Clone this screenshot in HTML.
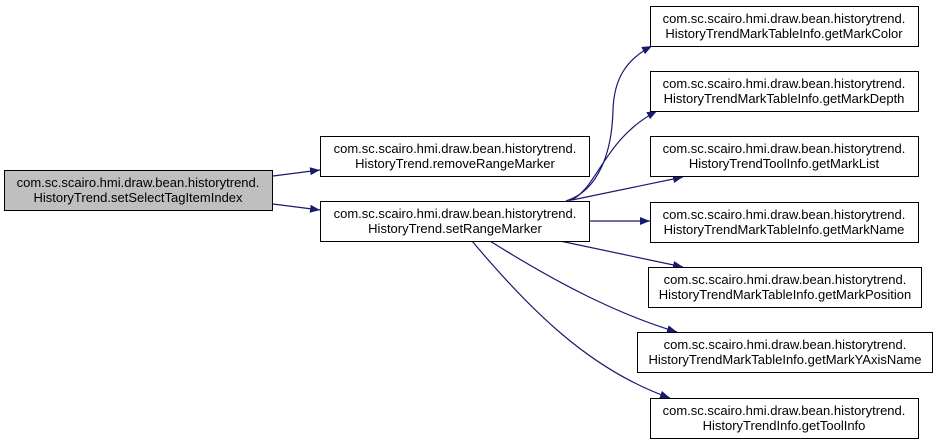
<!DOCTYPE html>
<html><head><style>
html,body{margin:0;padding:0;background:#fff;}
svg{display:block;}
text{font-family:"Liberation Sans",Arial,sans-serif;font-size:13px;fill:#000;}
</style></head><body>
<svg width="937" height="444" viewBox="0 0 937 444" xmlns="http://www.w3.org/2000/svg">
<defs>
<marker id="a" markerWidth="10" markerHeight="8" refX="10" refY="4" orient="auto" markerUnits="userSpaceOnUse">
<path d="M0,0 L10,4 L0,8 Z" fill="#191970"/>
</marker>
</defs>
<g fill="none" stroke="#191970" stroke-width="1.2" marker-end="url(#a)">
<path d="M273,176 L320,170"/>
<path d="M273,204 L320,210"/>
<path d="M566,201 C600,190 612,150 613,110 C614,80 625,60 652,46"/>
<path d="M569,201 C598,190 602,140 657,111"/>
<path d="M572,200 L683,177"/>
<path d="M590,221 L650,221"/>
<path d="M560,241 L683,267"/>
<path d="M490,241 C560,285 620,315 677,332"/>
<path d="M472,241 C530,310 590,370 670,398"/>
</g>
<g stroke="#000" stroke-width="1">
<rect x="4.5" y="170.5" width="268" height="40" fill="#bfbfbf"/>
<rect x="320.5" y="136.5" width="269" height="40" fill="#fff"/>
<rect x="320.5" y="201.5" width="269" height="40" fill="#fff"/>
<rect x="650.5" y="6.5" width="268" height="40" fill="#fff"/>
<rect x="650.5" y="71.5" width="268" height="40" fill="#fff"/>
<rect x="650.5" y="136.5" width="268" height="40" fill="#fff"/>
<rect x="650.5" y="202.5" width="268" height="40" fill="#fff"/>
<rect x="648.5" y="267.5" width="273" height="40" fill="#fff"/>
<rect x="637.5" y="332.5" width="295" height="40" fill="#fff"/>
<rect x="650.5" y="398.5" width="268" height="40" fill="#fff"/>
</g>
<g text-anchor="middle">
<text x="138" y="187">com.sc.scairo.hmi.draw.bean.historytrend.</text>
<text x="138" y="202">HistoryTrend.setSelectTagItemIndex</text>
<text x="455" y="153">com.sc.scairo.hmi.draw.bean.historytrend.</text>
<text x="455" y="168">HistoryTrend.removeRangeMarker</text>
<text x="455" y="218">com.sc.scairo.hmi.draw.bean.historytrend.</text>
<text x="455" y="233">HistoryTrend.setRangeMarker</text>
<text x="784" y="23">com.sc.scairo.hmi.draw.bean.historytrend.</text>
<text x="784" y="38">HistoryTrendMarkTableInfo.getMarkColor</text>
<text x="784" y="88">com.sc.scairo.hmi.draw.bean.historytrend.</text>
<text x="784" y="103">HistoryTrendMarkTableInfo.getMarkDepth</text>
<text x="784" y="153">com.sc.scairo.hmi.draw.bean.historytrend.</text>
<text x="784" y="168">HistoryTrendToolInfo.getMarkList</text>
<text x="784" y="219">com.sc.scairo.hmi.draw.bean.historytrend.</text>
<text x="784" y="234">HistoryTrendMarkTableInfo.getMarkName</text>
<text x="785" y="284">com.sc.scairo.hmi.draw.bean.historytrend.</text>
<text x="785" y="299">HistoryTrendMarkTableInfo.getMarkPosition</text>
<text x="785" y="349">com.sc.scairo.hmi.draw.bean.historytrend.</text>
<text x="785" y="364">HistoryTrendMarkTableInfo.getMarkYAxisName</text>
<text x="784" y="415">com.sc.scairo.hmi.draw.bean.historytrend.</text>
<text x="784" y="430">HistoryTrendInfo.getToolInfo</text>
</g>
</svg>
</body></html>
